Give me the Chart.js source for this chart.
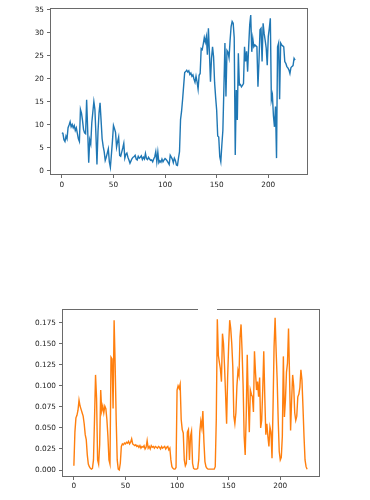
<!DOCTYPE html>
<html>
<head>
<meta charset="utf-8">
<script src="https://cdn.jsdelivr.net/npm/chart.js@4.4.0/dist/chart.umd.min.js"></script>
<style>
  html, body { margin: 0; padding: 0; background: #fff; }
  #wrap { position: relative; width: 370px; height: 500px; overflow: hidden; }
  canvas { position: absolute; left: 0; }
  #topChart { top: 0; }
  #bottomChart { top: 290px; }
</style>
</head>
<body>
<div id="wrap">
  <canvas id="topChart" width="370" height="200"></canvas>
  <canvas id="bottomChart" width="370" height="210"></canvas>
</div>
<script>
// tick labels
var xTicks = [0, 50, 100, 150, 200];
var topTicks = [0, 5, 10, 15, 20, 25, 30, 35];
var bottomTicks = [0, 0.025, 0.05, 0.075, 0.1, 0.125, 0.15, 0.175];

// upper series (blue), one value per step 0..226
var topValues = [
  8.3, 8.2, 6.8, 6.4, 7.6, 7.0, 9.4, 10.0, 10.7, 9.6,
  10.1, 9.4, 9.9, 8.8, 9.4, 8.2, 7.0, 6.4, 13.4, 12.6,
  11.0, 9.0, 8.3, 8.1, 15.5, 9.0, 1.8, 6.8, 5.9, 10.5,
  12.8, 15.1, 13.4, 8.0, 1.4, 8.5, 12.6, 14.8, 11.0, 7.0,
  5.4, 4.2, 2.3, 3.0, 3.9, 4.8, 2.0, 0.8, 3.6, 6.5,
  9.9, 9.2, 8.4, 5.2, 6.4, 7.4, 3.4, 3.2, 4.1, 5.0,
  6.0, 2.8, 3.6, 3.9, 3.0, 2.4, 1.7, 2.2, 2.7, 3.0,
  3.1, 3.4, 2.6, 2.4, 3.2, 2.8, 3.0, 3.3, 2.5, 3.0,
  2.6, 3.8, 2.7, 2.5, 3.0, 2.6, 2.3, 2.4, 2.0, 2.6,
  3.1, 4.2, 2.0, 4.1, 1.8, 2.2, 1.9, 2.6, 2.0, 2.4,
  2.7, 2.5, 2.2, 1.8, 1.4, 3.4, 3.0, 2.6, 1.8, 2.8,
  2.3, 1.3, 1.2, 2.8, 4.2, 11.2, 13.0, 15.6, 18.5, 21.4,
  21.6, 21.9, 21.5, 21.8, 21.0, 21.3, 20.6, 20.9, 20.0, 19.3,
  20.6, 19.4, 17.8, 20.8, 21.2, 26.6, 26.4, 27.6, 29.0, 28.0,
  29.2, 25.3, 31.0, 25.6, 19.4, 24.5, 27.0, 24.8, 19.2, 16.0,
  13.2, 7.6, 7.4, 3.1, 2.0, 5.6, 8.8, 18.0, 27.8, 16.2,
  26.2, 25.8, 24.6, 28.4, 31.4, 32.5, 32.1, 29.0, 3.5, 17.6,
  11.1, 25.6, 18.7, 18.8, 18.3, 18.6, 19.0, 27.0, 23.8, 26.0,
  21.6, 27.0, 31.7, 33.9, 25.9, 28.8, 27.0, 27.4, 27.2, 27.0,
  18.3, 23.8, 30.7, 31.0, 23.8, 32.1, 29.9, 28.4, 26.7, 23.0,
  29.2, 31.0, 33.2, 15.4, 16.5, 12.0, 9.6, 14.0, 2.8, 27.0,
  27.8, 15.6, 27.8, 27.4, 27.2, 27.0, 23.8, 23.4, 22.7, 22.4,
  22.0, 21.2, 22.5, 22.7, 22.9, 24.5, 24.1
];

// lower series (orange)
var bottomValues = [
  0.005, 0.045, 0.062, 0.065, 0.071, 0.083, 0.076, 0.072, 0.068, 0.064,
  0.055, 0.042, 0.036, 0.018, 0.007, 0.004, 0.002, 0.001, 0.002, 0.012,
  0.060, 0.113, 0.085, 0.012, 0.007, 0.030, 0.095, 0.070, 0.076, 0.068,
  0.076, 0.073, 0.060, 0.040, 0.012, 0.007, 0.134, 0.132, 0.073, 0.178,
  0.125, 0.060, 0.012, 0.001, 0.000, 0.008, 0.028, 0.031, 0.030, 0.032,
  0.031, 0.033, 0.032, 0.034, 0.031, 0.033, 0.037, 0.031, 0.030, 0.029,
  0.030, 0.028, 0.029, 0.027, 0.029, 0.026, 0.028, 0.027, 0.029, 0.025,
  0.027, 0.035, 0.026, 0.028, 0.025, 0.029, 0.027, 0.028, 0.026, 0.028,
  0.027, 0.026, 0.028, 0.027, 0.025, 0.028, 0.026, 0.027, 0.028, 0.025,
  0.027, 0.028, 0.024, 0.026, 0.012, 0.004, 0.002, 0.001, 0.001, 0.003,
  0.095, 0.100, 0.097, 0.102, 0.060, 0.048, 0.044, 0.012, 0.005, 0.008,
  0.045, 0.048, 0.012, 0.040, 0.046, 0.008, 0.002, 0.001, 0.001, 0.001,
  0.002, 0.012, 0.045, 0.058, 0.050, 0.070, 0.034, 0.010, 0.004, 0.002,
  0.001, 0.001, 0.001, 0.001, 0.001, 0.001, 0.001, 0.004, 0.060, 0.179,
  0.136, 0.128, 0.120, 0.105, 0.162, 0.150, 0.123, 0.090, 0.055, 0.110,
  0.148, 0.178, 0.168, 0.150, 0.123, 0.064, 0.055, 0.068, 0.100, 0.118,
  0.112, 0.158, 0.173, 0.141, 0.100, 0.040, 0.018, 0.064, 0.137, 0.083,
  0.045, 0.095, 0.090, 0.087, 0.069, 0.141, 0.116, 0.095, 0.105, 0.087,
  0.110, 0.050, 0.059, 0.095, 0.141, 0.087, 0.042, 0.055, 0.040, 0.028,
  0.051, 0.045, 0.014, 0.075, 0.147, 0.181, 0.141, 0.107, 0.059, 0.022,
  0.012, 0.015, 0.040, 0.135, 0.063, 0.083, 0.116, 0.127, 0.168, 0.111,
  0.047, 0.083, 0.113, 0.100, 0.068, 0.059, 0.064, 0.087, 0.090, 0.098,
  0.119, 0.107, 0.075, 0.040, 0.012, 0.004, 0.001
];

var tickFont = { family: 'DejaVu Sans', size: 7.3 };
var tickColor = '#222';
var axisColor = '#6a6a6a';

// box around the plot area, like matplotlib spines
var framePlugin = {
    id: 'frame',
    afterDraw: function (chart, args, opts) {
        var a = chart.chartArea;
        var ctx = chart.ctx;
        ctx.save();
        ctx.strokeStyle = axisColor;
        ctx.lineWidth = 1;
        ctx.strokeRect(Math.round(a.left) + 0.5, Math.round(a.top) + 0.5,
            Math.round(a.right - a.left) - 1, Math.round(a.bottom - a.top) - 1);
        if (opts.gap) {
            ctx.fillStyle = '#fff';
            ctx.fillRect(opts.gap[0], Math.round(a.top) - 1, opts.gap[1] - opts.gap[0], 3);
        }
        ctx.restore();
    }
};

function makeChart(id, values, color, yTicks, yRange, opts) {
    var points = values.map(function (v, i) { return { x: i, y: v }; });
    return new Chart(document.getElementById(id), {
        type: 'line',
        data: {
            datasets: [{
                data: points,
                borderColor: color,
                borderWidth: 1.4,
                pointRadius: 0,
                tension: 0,
                fill: false
            }]
        },
        options: {
            responsive: false,
            animation: false,
            events: [],
            layout: { padding: opts.padding },
            plugins: {
                legend: { display: false },
                tooltip: { enabled: false },
                frame: { gap: opts.gap }
            },
            scales: {
                x: {
                    type: 'linear',
                    min: -11.5,
                    max: 238.5,
                    afterBuildTicks: function (s) {
                        s.ticks = xTicks.map(function (v) { return { value: v }; });
                    },
                    afterFit: function (s) { s.height = opts.xHeight; },
                    border: { display: false },
                    grid: { drawOnChartArea: false, drawTicks: true, tickLength: 3, color: axisColor },
                    ticks: { font: tickFont, color: tickColor, padding: opts.xPad, maxRotation: 0, autoSkip: false }
                },
                y: {
                    type: 'linear',
                    min: yRange[0],
                    max: yRange[1],
                    afterBuildTicks: function (s) {
                        s.ticks = yTicks.map(function (v) { return { value: v }; });
                    },
                    afterFit: function (s) { s.width = opts.yWidth; },
                    border: { display: false },
                    grid: { drawOnChartArea: false, drawTicks: true, tickLength: 3, color: axisColor },
                    ticks: {
                        font: tickFont, color: tickColor, padding: 3, autoSkip: false,
                        callback: opts.fmt
                    }
                }
            }
        },
        plugins: [framePlugin]
    });
}

makeChart('topChart', topValues, '#1f77b4', topTicks, [-0.87, 35.43], {
    padding: { left: 0, top: 8, right: 62, bottom: 0 },
    yWidth: 50, xHeight: 25, xPad: 3,
    fmt: function (v) { return String(v); }
});

makeChart('bottomChart', bottomValues, '#ff7f0e', bottomTicks, [-0.0083, 0.1913], {
    padding: { left: 0, top: 19, right: 50, bottom: 0 },
    yWidth: 62, xHeight: 23, xPad: 2,
    gap: [198, 217],
    fmt: function (v) { return v.toFixed(3); }
});
</script>
</body>
</html>
